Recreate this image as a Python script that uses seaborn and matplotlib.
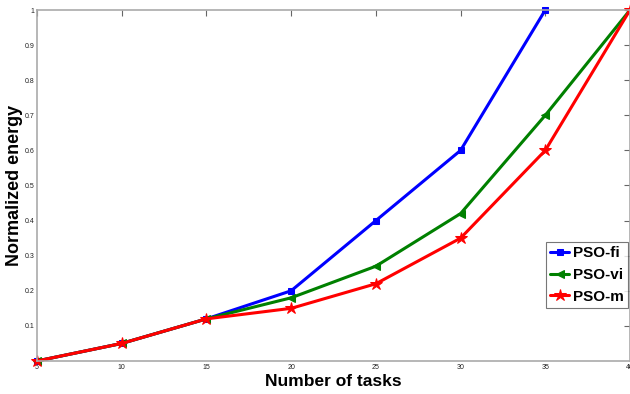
import matplotlib
matplotlib.use("Agg")
import matplotlib.pyplot as plt
import seaborn as sns
import pandas as pd

tasks = [5, 10, 15, 20, 25, 30, 35, 40]
pso_fi = [0.0, 0.05, 0.12, 0.20, 0.40, 0.60, 1.00]
pso_vi = [0.0, 0.05, 0.12, 0.18, 0.27, 0.42, 0.70, 1.00]
pso_m = [0.0, 0.05, 0.12, 0.15, 0.22, 0.35, 0.60, 1.00]
x_ticks = [5, 10, 15, 20, 25, 30, 35, 40]
y_ticks = [0.1, 0.2, 0.3, 0.4, 0.5, 0.6, 0.7, 0.8, 0.9, 1.0]
y_tick_labels = ["0.1", "0.2", "0.3", "0.4", "0.5", "0.6", "0.7", "0.8", "0.9", "1"]

sns.set_style("white")
plt.rcParams['font.family'] = ['Liberation Sans', 'DejaVu Sans']
plt.rcParams['text.color'] = 'black'
plt.rcParams['axes.labelcolor'] = 'black'

fig = plt.figure(figsize=(6.3, 3.94), dpi=100)
ax = fig.add_axes([0.0587, 0.0838, 0.9413, 0.8908])

series = [
    ("PSO-fi", pso_fi, "#0000ff", "s", 5),
    ("PSO-vi", pso_vi, "#008000", "<", 6),
    ("PSO-m", pso_m, "#ff0000", "*", 9),
]
for name, vals, col, mk, ms in series:
    df = pd.DataFrame({"x": tasks[:len(vals)], "y": vals})
    sns.lineplot(data=df, x="x", y="y", ax=ax, color=col, marker=mk,
                 markersize=ms, markeredgecolor=col, markerfacecolor=col,
                 linewidth=2.2, label=name, clip_on=False)

ax.set_xlim(5, 40)
ax.set_ylim(0, 1)
ax.set_xticks(x_ticks)
ax.set_xticklabels([str(t) for t in x_ticks])
ax.set_yticks(y_ticks)
ax.set_yticklabels(y_tick_labels)
ax.tick_params(axis='both', direction='in', length=4, width=0.8,
               colors='#666666', labelsize=5, labelcolor='#222222', pad=2,
               right=True, top=True)
for s in ax.spines.values():
    s.set_color('#aaaaaa')
    s.set_linewidth(1.2)

ax.set_xlabel("Number of tasks", fontsize=12.5, fontweight='bold',
              labelpad=2, color='black')
ax.set_ylabel("Normalized energy", fontsize=13, fontweight='bold',
              color='black')
ax.yaxis.set_label_coords(-0.038, 0.5)
ax.yaxis.label.set_verticalalignment('center')

leg = ax.legend(loc='upper left', bbox_to_anchor=(0.858, 0.34),
                frameon=True, fancybox=False, handlelength=1.25,
                handletextpad=0.2, borderpad=0.3, labelspacing=0.5,
                borderaxespad=0.0,
                prop={'weight': 'bold', 'size': 11})
for t in leg.get_texts():
    t.set_color('black')
leg.get_frame().set_edgecolor('#555555')
leg.get_frame().set_linewidth(0.8)

fig.savefig("out.png", dpi=100)
